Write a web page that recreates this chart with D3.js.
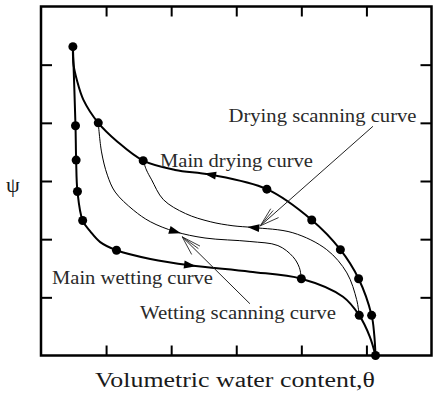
<!DOCTYPE html>
<html>
<head>
<meta charset="utf-8">
<script src="https://cdn.jsdelivr.net/npm/d3@7"></script>
<style>
  body { margin: 0; background: #fff; }
  svg { display: block; }
</style>
</head>
<body>
<script>
// Unlabelled ticks, frame is split in 6 steps each way
const thetaTicks = [1, 2, 3, 4, 5];
const psiTicks = [1, 2, 3, 4, 5];

// Curves, [theta, psi] in tick units, in the direction of flow
const mainDrying = [
  [5.14, 0.00], [5.12, 0.36], [5.08, 0.69], [4.88, 1.32], [4.60, 1.82], [4.16, 2.33],
  [3.47, 2.86], [2.60, 3.11], [2.06, 3.19], [1.57, 3.35], [1.17, 3.68], [0.88, 4.00],
  [0.65, 4.40], [0.55, 4.74], [0.50, 5.00], [0.49, 5.31]
];
const mainWetting = [
  [0.49, 5.31], [0.53, 3.95], [0.54, 3.36], [0.56, 2.82], [0.64, 2.32], [0.76, 2.13],
  [0.91, 1.95], [1.16, 1.81], [1.68, 1.66], [2.29, 1.55], [3.21, 1.44], [4.00, 1.32],
  [4.64, 1.01], [4.89, 0.69], [5.05, 0.33], [5.14, 0.00]
];
const wettingScanning = [
  [0.88, 4.00], [0.93, 3.50], [1.02, 3.10], [1.14, 2.81], [1.42, 2.50], [1.68, 2.30],
  [2.06, 2.13], [2.52, 2.02], [3.21, 1.96], [3.64, 1.89], [3.87, 1.70], [3.97, 1.51],
  [4.00, 1.32]
];
const dryingScanning = [
  [4.89, 0.69], [4.85, 0.96], [4.70, 1.42], [4.39, 1.82], [3.87, 2.11], [3.26, 2.20],
  [2.95, 2.23], [2.60, 2.30], [2.22, 2.44], [1.88, 2.68], [1.70, 3.02], [1.62, 3.19],
  [1.57, 3.35]
];

// Measured points
const dryingDots = [
  [0.49, 5.31], [0.88, 4.00], [1.57, 3.35], [3.47, 2.86], [4.16, 2.33],
  [4.60, 1.82], [4.88, 1.32], [5.08, 0.69], [5.14, 0.00]
];
const wettingDots = [
  [0.53, 3.95], [0.54, 3.36], [0.56, 2.82], [0.64, 2.32], [1.16, 1.81],
  [4.00, 1.32], [4.89, 0.69]
];

// Flow arrows sit on each curve near these points
const arrowMainDrying = [2.60, 3.11];
const arrowMainWetting = [2.29, 1.55];
const arrowDryingScan = [3.26, 2.20];
const arrowWettingScan = [2.06, 2.13];

// Size / frame
const width = 436;
const height = 395;
const frame = { left: 41, right: 431.5, top: 6.5, bottom: 355.5 };

const x = d3.scaleLinear().domain([0, 6]).range([frame.left, frame.right]);
const y = d3.scaleLinear().domain([0, 6]).range([frame.bottom, frame.top]);

const svg = d3.select("body")
  .append("svg")
  .attr("width", width)
  .attr("height", height);

// Axes, ticks pointing inward on all four sides
function styleAxis(g) {
  g.select(".domain").remove();
  g.selectAll(".tick line").attr("stroke", "#000").attr("stroke-width", 2);
  g.selectAll(".tick text").remove();
}
svg.append("g").attr("transform", `translate(0,${frame.bottom})`)
  .call(d3.axisBottom(x).tickValues(thetaTicks).tickSize(-10).tickFormat(""))
  .call(styleAxis);
svg.append("g").attr("transform", `translate(0,${frame.top})`)
  .call(d3.axisTop(x).tickValues(thetaTicks).tickSize(-10).tickFormat(""))
  .call(styleAxis);
svg.append("g").attr("transform", `translate(${frame.left},0)`)
  .call(d3.axisLeft(y).tickValues(psiTicks).tickSize(-11).tickFormat(""))
  .call(styleAxis);
svg.append("g").attr("transform", `translate(${frame.right},0)`)
  .call(d3.axisRight(y).tickValues(psiTicks).tickSize(-11).tickFormat(""))
  .call(styleAxis);

svg.append("rect")
  .attr("x", frame.left)
  .attr("y", frame.top)
  .attr("width", frame.right - frame.left)
  .attr("height", frame.bottom - frame.top)
  .attr("fill", "none")
  .attr("stroke", "#000")
  .attr("stroke-width", 2.5);

// Curves
const line = d3.line()
  .x(d => x(d[0]))
  .y(d => y(d[1]))
  .curve(d3.curveCatmullRom.alpha(0.5));

const curves = [
  { pts: mainDrying, w: 2, arrow: arrowMainDrying },
  { pts: mainWetting, w: 2, arrow: arrowMainWetting },
  { pts: dryingScanning, w: 1, arrow: arrowDryingScan },
  { pts: wettingScanning, w: 1, arrow: arrowWettingScan }
];

const paths = svg.selectAll("path.curve")
  .data(curves)
  .enter()
  .append("path")
  .attr("class", "curve")
  .attr("d", d => line(d.pts))
  .attr("fill", "none")
  .attr("stroke", "#000")
  .attr("stroke-width", d => d.w)
  .attr("stroke-linejoin", "round");

// Flow arrows: closest spot on each path, turned along the tangent
paths.each(function (d) {
  const node = this;
  const total = node.getTotalLength();
  const tx = x(d.arrow[0]), ty = y(d.arrow[1]);
  let best = 0, bestDist = Infinity;
  for (let l = 0; l <= total; l += 0.5) {
    const p = node.getPointAtLength(l);
    const dd = (p.x - tx) ** 2 + (p.y - ty) ** 2;
    if (dd < bestDist) { bestDist = dd; best = l; }
  }
  const p = node.getPointAtLength(best);
  const a = node.getPointAtLength(Math.max(0, best - 3));
  const b = node.getPointAtLength(Math.min(total, best + 3));
  const angle = Math.atan2(b.y - a.y, b.x - a.x) * 180 / Math.PI;
  svg.append("path")
    .attr("d", "M6,0L-6,-4L-6,4Z")
    .attr("transform", `translate(${p.x},${p.y}) rotate(${angle})`)
    .attr("fill", "#000");
});

// Dots
svg.selectAll("circle.dot")
  .data(dryingDots.concat(wettingDots))
  .enter()
  .append("circle")
  .attr("class", "dot")
  .attr("cx", d => x(d[0]))
  .attr("cy", d => y(d[1]))
  .attr("r", 4.5)
  .attr("fill", "#000");

// Leader lines with open arrow heads
const leaders = [
  { from: [5.10, 3.94], to: [3.37, 2.23] },
  { from: [3.21, 0.89], to: [2.17, 2.04] }
];
leaders.forEach(ld => {
  const x1 = x(ld.from[0]), y1 = y(ld.from[1]);
  const x2 = x(ld.to[0]), y2 = y(ld.to[1]);
  svg.append("line")
    .attr("x1", x1).attr("y1", y1).attr("x2", x2).attr("y2", y2)
    .attr("stroke", "#222").attr("stroke-width", 1);
  const ang = Math.atan2(y1 - y2, x1 - x2);
  [-0.3, -0.15, 0.3].forEach(off => {
    svg.append("line")
      .attr("x1", x2).attr("y1", y2)
      .attr("x2", x2 + 20 * Math.cos(ang + off))
      .attr("y2", y2 + 20 * Math.sin(ang + off))
      .attr("stroke", "#222").attr("stroke-width", 0.9);
  });
});

// Labels
const serif = "'Liberation Serif', 'Times New Roman', serif";
const labels = [
  { text: "Main drying curve", x: 160, y: 166.5, len: 153 },
  { text: "Drying scanning curve", x: 228.5, y: 121.5, len: 188 },
  { text: "Main wetting curve", x: 52, y: 283.5, len: 161 },
  { text: "Wetting scanning curve", x: 140, y: 318.5, len: 196 }
];
svg.selectAll("text.lab")
  .data(labels)
  .enter()
  .append("text")
  .attr("class", "lab")
  .attr("x", d => d.x)
  .attr("y", d => d.y)
  .attr("textLength", d => d.len)
  .attr("lengthAdjust", "spacingAndGlyphs")
  .attr("font-family", serif)
  .attr("font-size", 18)
  .attr("fill", "#2a2a2a")
  .text(d => d.text);

svg.append("text")
  .attr("x", 95)
  .attr("y", 386.5)
  .attr("textLength", 280)
  .attr("lengthAdjust", "spacingAndGlyphs")
  .attr("font-family", serif)
  .attr("font-size", 20)
  .attr("fill", "#1a1a1a")
  .text("Volumetric water content,θ");

svg.append("text")
  .attr("x", 13)
  .attr("y", 192)
  .attr("text-anchor", "middle")
  .attr("font-family", serif)
  .attr("font-size", 22)
  .attr("fill", "#1a1a1a")
  .text("ψ");
</script>
</body>
</html>
